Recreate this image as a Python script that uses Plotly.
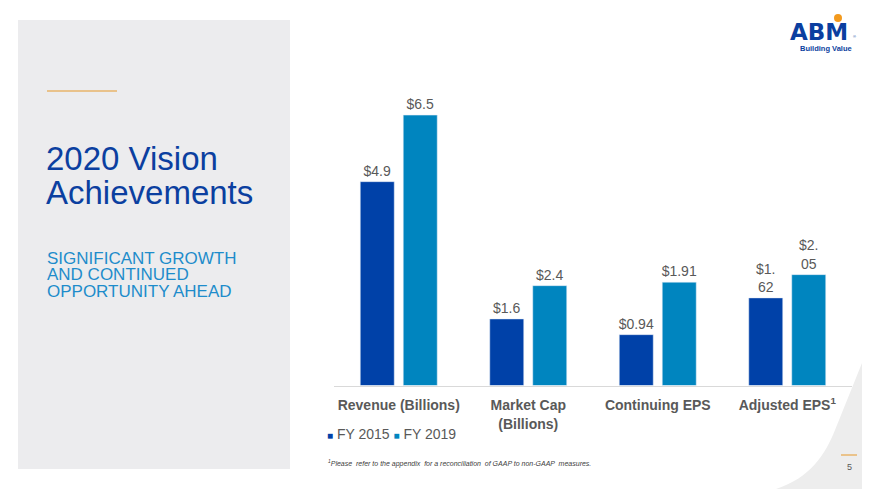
import plotly.graph_objects as go

W, H = 870, 489
OFF = 8  # the page body keeps its default 8px margin, so the figure starts at (8, 8)

categories = ["Revenue (Billions)", "Market Cap<br>(Billions)", "Continuing EPS", "Adjusted EPS<sup>1</sup>"]
fy2015 = [4.9, 1.6, 0.94, 1.62]
fy2019 = [6.5, 2.4, 1.91, 2.05]
labels_2015 = ["$4.9", "$1.6", "$0.94", "$1.<br>62"]
labels_2019 = ["$6.5", "$2.4", "$1.91", "$2.<br>05"]
# the slide draws the EPS bars on a taller scale than the dollar-billion ones
bar_scale = [1.0, 1.0, 1.3, 1.3]

DARK = "#0041A8"
LIGHT = "#0085BF"
GREY = "#595959"
FONT = "Arial, Liberation Sans, sans-serif"

FW, FH = W - OFF, H - OFF


def px(x):
    return (x - OFF) / FW


def py(y):
    return 1 - (y - OFF) / FH


fig = go.Figure()
fig.add_trace(go.Bar(x=categories, y=[v * s for v, s in zip(fy2015, bar_scale)],
                     name="FY 2015", marker_color=DARK, text=labels_2015,
                     textposition="outside", constraintext="none", cliponaxis=False,
                     textfont=dict(size=14, color=GREY, family=FONT)))
fig.add_trace(go.Bar(x=categories, y=[v * s for v, s in zip(fy2019, bar_scale)],
                     name="FY 2019", marker_color=LIGHT, text=labels_2019,
                     textposition="outside", constraintext="none", cliponaxis=False,
                     textfont=dict(size=14, color=GREY, family=FONT)))

shapes = [
    # left grey panel
    dict(type="rect", xref="paper", yref="paper", x0=px(18), x1=px(290), y0=py(469), y1=py(20),
         fillcolor="#ECECEE", line_width=0, layer="below"),
    # orange rule over the title
    dict(type="line", xref="paper", yref="paper", x0=px(47), x1=px(117), y0=py(91), y1=py(91),
         line=dict(color="#E9B46A", width=1.5)),
    # grey curve bottom right
    dict(type="path", xref="paper", yref="paper", fillcolor="#EDEDED", line_width=0, layer="below",
         path="M %f,%f C %f,%f %f,%f %f,%f L %f,%f L %f,%f Z" % (
             px(776), py(489), px(810), py(478), px(825), py(455), px(835), py(430),
             px(870), py(343), px(870), py(489))),
    # page number rule
    dict(type="line", xref="paper", yref="paper", x0=px(841), x1=px(857), y0=py(455), y1=py(455),
         line=dict(color="#E9B46A", width=1.5)),
    # logo dot
    dict(type="circle", xref="paper", yref="paper", x0=px(834), x1=px(842), y0=py(14), y1=py(22),
         fillcolor="#F39A1E", line_width=0),
]


def note(x, y, text, size, color, family=FONT, xanchor="left", **kw):
    return dict(xref="paper", yref="paper", x=px(x), y=py(y), text=text, showarrow=False,
                xanchor=xanchor, yanchor="middle", font=dict(size=size, color=color, family=family, **kw))


annotations = [
    note(44, 158, "2020 Vision", 33, "#0B3FA0"),
    note(44, 192, "Achievements", 33, "#0B3FA0"),
    note(45, 258, "SIGNIFICANT GROWTH", 17, "#1E8CCB"),
    note(45, 274.5, "AND CONTINUED", 17, "#1E8CCB"),
    note(45, 291, "OPPORTUNITY AHEAD", 17, "#1E8CCB"),
    note(325, 434, "<span style='color:%s;font-size:10px'>■</span> FY 2015 "
                   "<span style='color:%s;font-size:10px'>■</span> FY 2019" % (DARK, LIGHT), 14, GREY),
    note(326, 463, "<sup>1</sup>Please  refer to the appendix  for a reconciliation  of GAAP to non-GAAP  measures.",
         7, "#404040", style="italic"),
    note(849, 467, "5", 9, GREY, xanchor="center"),
    note(819, 32, "ABM", 23, "#0B3FA0", family="DejaVu Sans, sans-serif", xanchor="center", weight="bold"),
    note(854, 37, "®", 4, "#0B3FA0", xanchor="center"),
    note(826, 49, "Building Value", 7.5, "#0B3FA0", xanchor="center", weight="bold"),
]

fig.update_layout(
    width=FW, height=FH,
    margin=dict(l=0, r=0, t=0, b=0),
    paper_bgcolor="white", plot_bgcolor="white",
    barmode="group", bargap=0.336, bargroupgap=0.21,
    showlegend=False,
    font=dict(family=FONT, color=GREY),
    xaxis=dict(domain=[px(334), px(852)], showline=True, linecolor="#D9D9D9", linewidth=1,
               ticks="", ticklabelstandoff=7, tickfont=dict(size=14, color=GREY, weight="bold")),
    yaxis=dict(domain=[py(385.5), py(73.5)], range=[0, 7.5], visible=False),
    shapes=shapes, annotations=annotations,
)

fig.write_html("out.html")
